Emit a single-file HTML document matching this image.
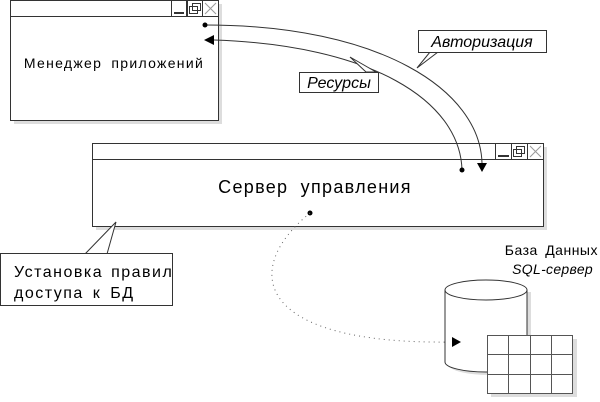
<!DOCTYPE html>
<html><head><meta charset="utf-8"><style>body{margin:0;background:#fff}svg{display:block}</style></head><body>
<svg width="600" height="402" viewBox="0 0 600 402" font-family="Liberation Sans, sans-serif">
<rect x="14" y="4" width="208" height="120" fill="#ddd"/>
<rect x="96" y="147" width="451" height="83" fill="#ddd"/>
<rect x="10.5" y="0.5" width="208" height="120" fill="#fff" stroke="#333"/>
<line x1="10" y1="16.5" x2="218" y2="16.5" stroke="#333"/>
<g stroke="#333" fill="none">
<rect x="171.5" y="0.5" width="15" height="16"/><line x1="174" y1="13" x2="184" y2="13" stroke-width="2"/>
<rect x="187.5" y="0.5" width="15" height="16"/><rect x="189.5" y="6.5" width="8" height="7"/><rect x="192.5" y="3.5" width="8" height="7"/>
<rect x="202.5" y="0.5" width="16" height="16"/><path d="M205,3 L216,14 M216,3 L205,14" stroke="#999"/>
</g>
<text x="114" y="68" font-size="14" text-anchor="middle" letter-spacing="1.3" word-spacing="4">Менеджер приложений</text>
<rect x="92.5" y="143.5" width="451" height="83" fill="#fff" stroke="#333"/>
<line x1="92" y1="159.5" x2="543" y2="159.5" stroke="#333"/>
<g stroke="#333" fill="none">
<rect x="495.5" y="143.5" width="16" height="16"/><line x1="498" y1="156" x2="509" y2="156" stroke-width="2"/>
<rect x="511.5" y="143.5" width="16" height="16"/><rect x="513.5" y="149.5" width="8" height="7"/><rect x="516.5" y="146.5" width="8" height="7"/>
<rect x="527.5" y="143.5" width="16" height="16"/><path d="M530,146 L541,157 M541,146 L530,157" stroke="#999"/>
</g>
<text x="315" y="193" font-size="18" text-anchor="middle" letter-spacing="1.3" word-spacing="6">Сервер управления</text>
<path d="M205,25 C380,25 480,90 482,163" fill="none" stroke="#333"/>
<circle cx="205" cy="25" r="2.5" fill="#000"/>
<polygon points="477,163 487,163 482,172" fill="#000"/>
<path d="M462,170 C460,100 370,45 214,40" fill="none" stroke="#333"/>
<circle cx="462" cy="170" r="2.5" fill="#000"/>
<polygon points="204,40 214,35 214,45" fill="#000"/>
<path d="M417,68 L430,52 L438,52 Z" fill="#fff" stroke="#333"/>
<rect x="418.5" y="30.5" width="128" height="22" fill="#fff" stroke="#333"/>
<text x="482" y="47" font-size="16" font-style="italic" text-anchor="middle">Авторизация</text>
<path d="M350,57 L366,72 L376,72 Z" fill="#fff" stroke="#333"/>
<rect x="299.5" y="72.5" width="79" height="20" fill="#fff" stroke="#333"/>
<text x="339" y="88" font-size="16" font-style="italic" text-anchor="middle">Ресурсы</text>
<path d="M85,254 L116,222 L107,254" fill="#fff" stroke="#333"/>
<rect x="0.5" y="253.5" width="172" height="52" fill="#fff" stroke="#333"/>
<text x="14" y="277" font-size="16" letter-spacing="1.5" word-spacing="2">Установка правил</text>
<text x="14" y="298" font-size="16" letter-spacing="1.5" word-spacing="3">доступа к БД</text>
<circle cx="310" cy="213" r="2.5" fill="#000"/>
<path d="M310,213 C240,270 255,345 452,342" fill="none" stroke="#666" stroke-dasharray="1 4"/>
<text x="598" y="255" font-size="14" text-anchor="end" letter-spacing="0.5" word-spacing="3">База Данных</text>
<text x="593" y="274" font-size="14" font-style="italic" text-anchor="end" letter-spacing="0.3">SQL-сервер</text>
<path d="M449,292 L449,365 A41,10 0 0 0 531,365 L531,292 Z" fill="#ddd"/>
<path d="M445,290 L445,362 A41,10 0 0 0 527,362 L527,290" fill="#fff" stroke="#333"/>
<ellipse cx="486" cy="290" rx="41" ry="10" fill="#fff" stroke="#333"/>
<polygon points="452,337 461,342 452,347" fill="#000"/>
<rect x="491" y="339" width="86" height="58" fill="#ddd"/>
<g fill="#fff" stroke="#555">
<rect x="487.5" y="335.5" width="85" height="58"/>
<path d="M508.5,335 V393 M530.5,335 V393 M551.5,335 V393 M487,354.5 H572 M487,374.5 H572"/>
</g>
</svg>
</body></html>
